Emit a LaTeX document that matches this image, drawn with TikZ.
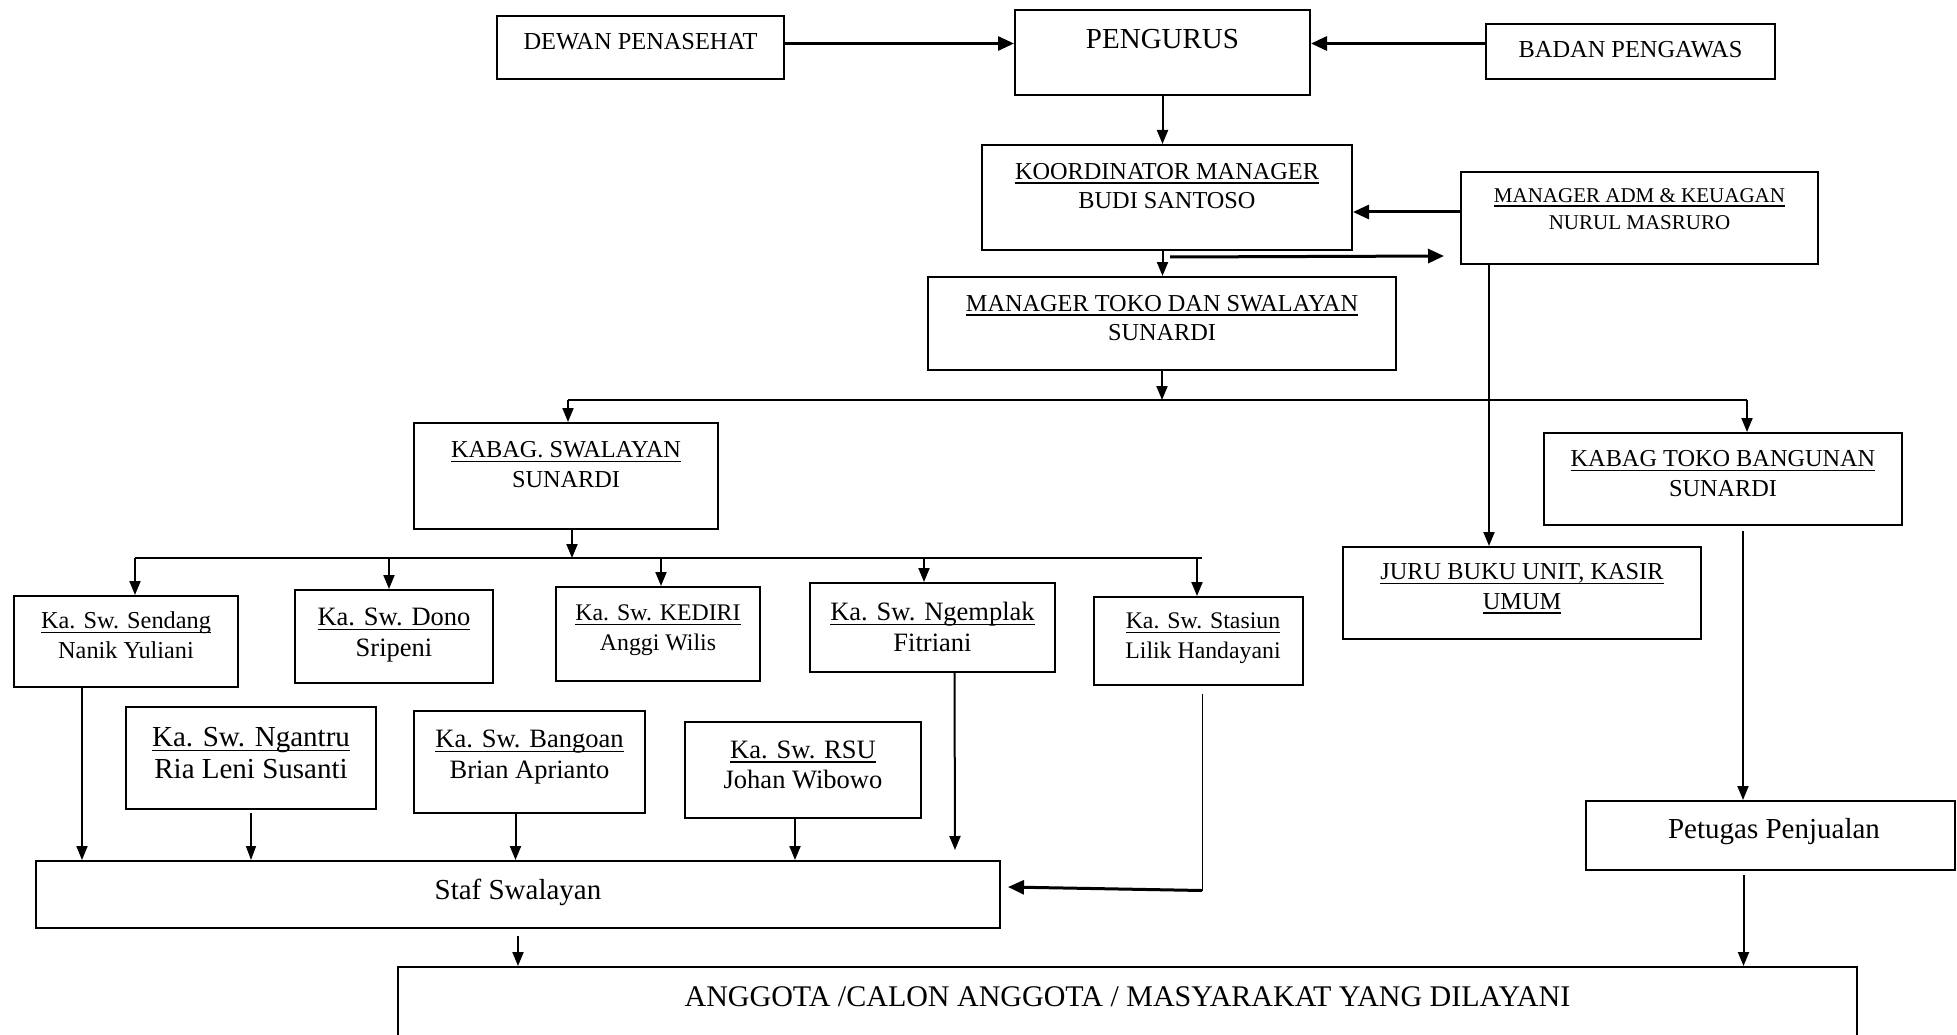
\documentclass[tikz,border=0pt]{standalone}
\usepackage{fontspec}
\setmainfont{Liberation Serif}
\newsavebox{\undlbox}
\newcommand{\undl}[1]{\sbox{\undlbox}{#1}\usebox{\undlbox}\llap{\rule[-4.5pt]{\wd\undlbox}{1.5pt}}}
\usetikzlibrary{arrows.meta}

\begin{document}
\begin{tikzpicture}[x=1pt,y=-1pt,
    unit/.style={draw,line width=2pt,inner sep=0pt},
    txt/.style={align=center,inner sep=0pt},
    capsA/.style={font=\fontsize{24.3}{29.5}\selectfont},
    capsB/.style={font=\fontsize{24.4}{28}\selectfont},
    capsC/.style={font=\fontsize{21}{27.7}\selectfont},
    smalltxt/.style={font=\fontsize{23.8}{29.5}\selectfont},
    midtxt/.style={font=\fontsize{26.5}{30.5}\selectfont},
    bigtxt/.style={font=\fontsize{29}{32}\selectfont},
    link/.style={line width=2pt,-{Triangle[length=14pt,width=11pt]}},
    thinlink/.style={line width=1.4pt,-{Triangle[length=14pt,width=10pt]}},
    boldlink/.style={line width=3pt,-{Triangle[length=16pt,width=14pt]}}]
    \useasboundingbox (0,0) rectangle (1957,1035);
    \clip (0,0) rectangle (1957,1035);

    % boxes
    \node[unit,minimum width=287pt,minimum height=63pt] (dewan) at (640.5,47.5) {};
    \node[unit,minimum width=295pt,minimum height=85pt] (pengurus) at (1162.5,52.5) {};
    \node[unit,minimum width=289pt,minimum height=55pt] (badan) at (1630.5,51.5) {};
    \node[unit,minimum width=370pt,minimum height=105pt] (koord) at (1167,197.5) {};
    \node[unit,minimum width=357pt,minimum height=92pt] (adm) at (1639.5,218) {};
    \node[unit,minimum width=468pt,minimum height=93pt] (toko) at (1162,323.5) {};
    \node[unit,minimum width=304pt,minimum height=106pt] (kabagsw) at (566,476) {};
    \node[unit,minimum width=358pt,minimum height=92pt] (kabagtoko) at (1723,479) {};
    \node[unit,minimum width=358pt,minimum height=92pt] (juru) at (1522,593) {};
    \node[unit,minimum width=224pt,minimum height=91pt] (sendang) at (126,641.5) {};
    \node[unit,minimum width=198pt,minimum height=93pt] (dono) at (394,636.5) {};
    \node[unit,minimum width=204pt,minimum height=94pt] (kediri) at (658,634) {};
    \node[unit,minimum width=245pt,minimum height=89pt] (ngemplak) at (932.5,627.5) {};
    \node[unit,minimum width=209pt,minimum height=88pt] (stasiun) at (1198.5,641) {};
    \node[unit,minimum width=250pt,minimum height=102pt] (ngantru) at (251,758) {};
    \node[unit,minimum width=231pt,minimum height=102pt] (bangoan) at (529.5,762) {};
    \node[unit,minimum width=236pt,minimum height=96pt] (rsu) at (803,770) {};
    \node[unit,minimum width=369pt,minimum height=69pt] (petugas) at (1770.5,835.5) {};
    \node[unit,minimum width=964pt,minimum height=67pt] (staf) at (518,894.5) {};
    \node[unit,minimum width=1459pt,minimum height=133pt] (anggota) at (1127.5,1033.5) {};

    % texts
    \node[txt,capsB] (dewan-t) at (640.5,42) {DEWAN PENASEHAT};
    \node[txt,bigtxt] (pengurus-t) at (1162.5,39.5) {PENGURUS};
    \node[txt,capsB] (badan-t) at (1630.5,49.5) {BADAN PENGAWAS};
    \node[txt,capsA] (koord-t) at (1167,186) {\undl{KOORDINATOR MANAGER}\\ BUDI SANTOSO};
    \node[txt,capsC] (adm-t) at (1639.5,209) {\undl{MANAGER ADM \& KEUAGAN}\\ NURUL MASRURO};
    \node[txt,capsA] (toko-t) at (1162,318) {\undl{MANAGER TOKO DAN SWALAYAN}\\ SUNARDI};
    \node[txt,capsA] (kabagsw-t) at (566,464.5) {\undl{KABAG. SWALAYAN}\\ SUNARDI};
    \node[txt,capsA] (kabagtoko-t) at (1723,473.5) {\undl{KABAG TOKO BANGUNAN}\\ SUNARDI};
    \node[txt,capsA] (juru-t) at (1522,588.5) {\undl{JURU BUKU UNIT, KASIR}\\ \undl{UMUM}};
    \node[txt,capsA] (sendang-t) at (126,635) {\undl{Ka. Sw. Sendang}\\ Nanik Yuliani};
    \node[txt,midtxt] (dono-t) at (394,635) {\undl{Ka. Sw. Dono}\\ Sripeni};
    \node[txt,smalltxt] (kediri-t) at (658,630) {\undl{Ka. Sw. KEDIRI}\\ Anggi Wilis};
    \node[txt,midtxt] (ngemplak-t) at (932.5,627) {\undl{Ka. Sw. Ngemplak}\\ Fitriani};
    \node[txt,smalltxt] (stasiun-t) at (1203,638) {\undl{Ka. Sw. Stasiun}\\ Lilik Handayani};
    \node[txt,bigtxt] (ngantru-t) at (251,753.5) {\undl{Ka. Sw. Ngantru}\\ Ria Leni Susanti};
    \node[txt,midtxt] (bangoan-t) at (529.5,757) {\undl{Ka. Sw. Bangoan}\\ Brian Aprianto};
    \node[txt,midtxt] (rsu-t) at (803,765) {\undl{Ka. Sw. RSU}\\ Johan Wibowo};
    \node[txt,bigtxt] (petugas-t) at (1774,831.5) {Petugas Penjualan};
    \node[txt,bigtxt] (staf-t) at (518,892) {Staf Swalayan};
    \node[txt,bigtxt,font=\fontsize{30}{32}\selectfont] (anggota-t) at (1127.5,997) {ANGGOTA /CALON ANGGOTA / MASYARAKAT YANG DILAYANI};

    % top
    \draw[boldlink] ([yshift=4pt]dewan.east) -- ([yshift=4pt]dewan.east -| pengurus.west);
    \draw[boldlink] ([yshift=8pt]badan.west) -- ([yshift=8pt]badan.west -| pengurus.east);
    \draw[link] (pengurus.south) -- (pengurus.south |- koord.north);
    \draw[link] (pengurus.south |- koord.south) -- (pengurus.south |- toko.north);
    \draw[boldlink] ([yshift=6pt]adm.west) -- ([yshift=6pt]adm.west -| koord.east);
    \coordinate (adm-in) at (1444,256);
    \draw[boldlink] ([xshift=3pt,yshift=-6pt]koord.south) -- (adm-in);
    \draw[link] ([xshift=29pt]adm.south west) -- ([xshift=29pt]adm.south west |- juru.north);

    % first bus
    \coordinate (bus1-l) at (568,400);
    \coordinate (bus1-r) at (1747,400);
    \draw[link] (toko.south) -- (toko.south |- bus1-l);
    \draw[line width=2pt] (bus1-l) -- (bus1-r);
    \draw[link] (bus1-l) -- (bus1-l |- kabagsw.north);
    \draw[link] (bus1-r) -- (bus1-r |- kabagtoko.north);

    % second bus
    \coordinate (bus2-l) at (135,558);
    \coordinate (bus2-r) at (1202,558);
    \draw[link] ([xshift=6pt]kabagsw.south) -- ([xshift=6pt]kabagsw.south |- bus2-l);
    \draw[line width=2pt] (bus2-l) -- (bus2-r);
    \foreach \x/\n in {135/sendang,389/dono,661/kediri,924/ngemplak,1197/stasiun}
        \draw[link] (\x,558) -- (\x,558 |- \n.north);

    % into staf
    \draw[link] ([xshift=-44pt]sendang.south) -- ([xshift=-44pt]sendang.south |- staf.north);
    \draw[thinlink] ([yshift=-3pt]ngantru.south) -- (ngantru.south |- staf.north);
    \draw[link] ([xshift=-14pt]bangoan.south) -- ([xshift=-14pt]bangoan.south |- staf.north);
    \draw[link] ([xshift=-8pt]rsu.south) -- ([xshift=-8pt]rsu.south |- staf.north);
    \coordinate (ngemplak-end) at (955,850);
    \draw[link] ([xshift=22pt]ngemplak.south) -- (ngemplak-end);
    \coordinate (stasiun-turn) at (1202,890.5);
    \coordinate (stasiun-end) at (1008,887);
    \draw[line width=1pt] ([xshift=3.5pt,yshift=-8pt]stasiun.south) -- (stasiun-turn);
    \draw[boldlink] (stasiun-turn) -- (stasiun-end);

    % right side and bottom
    \draw[link] ([xshift=20pt,yshift=-5pt]kabagtoko.south) -- ([xshift=20pt]kabagtoko.south |- petugas.north);
    \draw[link] ([xshift=-27pt,yshift=-4pt]petugas.south) -- ([xshift=-27pt]petugas.south |- anggota.north);
    \draw[link] ([yshift=-7pt]staf.south) -- (staf.south |- anggota.north);
\end{tikzpicture}
\end{document}
